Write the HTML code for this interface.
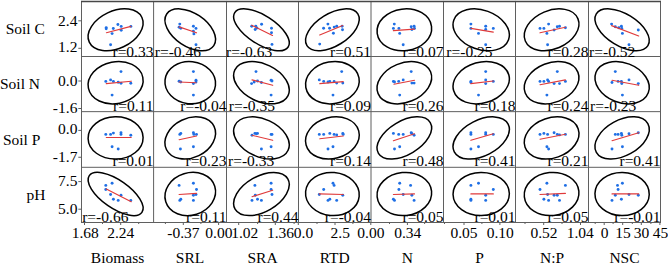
<!DOCTYPE html><html><head><meta charset="utf-8"><style>html,body{margin:0;padding:0;background:#fff;}svg{display:block;}text{font-family:"Liberation Serif",serif;fill:#000;font-size:15.5px;}</style></head><body>
<svg width="668" height="264" viewBox="0 0 668 264">
<rect width="668" height="264" fill="#fff"/>
<g stroke="#5f5f5f" stroke-width="1" fill="none">
<line x1="81.5" y1="0.95" x2="81.5" y2="223.0"/>
<line x1="153.6" y1="0.95" x2="153.6" y2="223.0"/>
<line x1="226.5" y1="0.95" x2="226.5" y2="223.0"/>
<line x1="298.5" y1="0.95" x2="298.5" y2="223.0"/>
<line x1="371.0" y1="0.95" x2="371.0" y2="223.0"/>
<line x1="443.5" y1="0.95" x2="443.5" y2="223.0"/>
<line x1="515.5" y1="0.95" x2="515.5" y2="223.0"/>
<line x1="588.5" y1="0.95" x2="588.5" y2="223.0"/>
<line x1="660.5" y1="0.95" x2="660.5" y2="223.0"/>
<line x1="81.0" y1="1.45" x2="661.0" y2="1.45" stroke="#474747" stroke-width="1.4"/>
<line x1="81.0" y1="56.5" x2="661.0" y2="56.5"/>
<line x1="81.0" y1="111.65" x2="661.0" y2="111.65"/>
<line x1="81.0" y1="167.3" x2="661.0" y2="167.3"/>
<line x1="81.0" y1="222.5" x2="661.0" y2="222.5"/>
<line x1="78.3" y1="20.8" x2="81" y2="20.8"/>
<line x1="78.3" y1="48.3" x2="81" y2="48.3"/>
<line x1="78.3" y1="81.0" x2="81" y2="81.0"/>
<line x1="78.3" y1="108.5" x2="81" y2="108.5"/>
<line x1="78.3" y1="130.4" x2="81" y2="130.4"/>
<line x1="78.3" y1="157.25" x2="81" y2="157.25"/>
<line x1="78.3" y1="181.6" x2="81" y2="181.6"/>
<line x1="78.3" y1="209.2" x2="81" y2="209.2"/>
<line x1="84.5" y1="222.5" x2="84.5" y2="225"/>
<line x1="120.7" y1="222.5" x2="120.7" y2="225"/>
<line x1="183.3" y1="222.5" x2="183.3" y2="225"/>
<line x1="218.6" y1="222.5" x2="218.6" y2="225"/>
<line x1="238.7" y1="222.5" x2="238.7" y2="225"/>
<line x1="275.3" y1="222.5" x2="275.3" y2="225"/>
<line x1="298.3" y1="222.5" x2="298.3" y2="225"/>
<line x1="335" y1="222.5" x2="335" y2="225"/>
<line x1="370.8" y1="222.5" x2="370.8" y2="225"/>
<line x1="407.4" y1="222.5" x2="407.4" y2="225"/>
<line x1="464" y1="222.5" x2="464" y2="225"/>
<line x1="499.9" y1="222.5" x2="499.9" y2="225"/>
<line x1="543.7" y1="222.5" x2="543.7" y2="225"/>
<line x1="580.5" y1="222.5" x2="580.5" y2="225"/>
<line x1="604.2" y1="222.5" x2="604.2" y2="225"/>
<line x1="622.7" y1="222.5" x2="622.7" y2="225"/>
<line x1="641.3" y1="222.5" x2="641.3" y2="225"/>
<line x1="659.9" y1="222.5" x2="659.9" y2="225"/>
<line x1="102.5" y1="222.5" x2="102.5" y2="224"/>
<line x1="138.7" y1="222.5" x2="138.7" y2="224"/>
<line x1="165.4" y1="222.5" x2="165.4" y2="224"/>
<line x1="200.9" y1="222.5" x2="200.9" y2="224"/>
<line x1="257.6" y1="222.5" x2="257.6" y2="224"/>
<line x1="294.1" y1="222.5" x2="294.1" y2="224"/>
<line x1="317" y1="222.5" x2="317" y2="224"/>
<line x1="352.9" y1="222.5" x2="352.9" y2="224"/>
<line x1="389.5" y1="222.5" x2="389.5" y2="224"/>
<line x1="424.6" y1="222.5" x2="424.6" y2="224"/>
<line x1="444.5" y1="222.5" x2="444.5" y2="224"/>
<line x1="481.9" y1="222.5" x2="481.9" y2="224"/>
<line x1="525" y1="222.5" x2="525" y2="224"/>
<line x1="562" y1="222.5" x2="562" y2="224"/>
<line x1="595.2" y1="222.5" x2="595.2" y2="224"/>
<line x1="613.1" y1="222.5" x2="613.1" y2="224"/>
<line x1="632.3" y1="222.5" x2="632.3" y2="224"/>
<line x1="650.9" y1="222.5" x2="650.9" y2="224"/>
</g>
<g><text x="5.7" y="33.7">Soil C</text><text x="0.0" y="88.9">Soil N</text><text x="2.9" y="144.9">Soil P</text><text x="26.5" y="199.9">pH</text><text x="77.4" y="26.0" text-anchor="end">2.4</text><text x="77.4" y="52.1" text-anchor="end">1.2</text><text x="77.4" y="85.9" text-anchor="end">0.0</text><text x="77.4" y="112.5" text-anchor="end">-1.6</text><text x="77.4" y="134.2" text-anchor="end">0.0</text><text x="77.4" y="162.45" text-anchor="end">-1.7</text><text x="77.4" y="185.8" text-anchor="end">7.5</text><text x="77.4" y="214.4" text-anchor="end">5.0</text><text x="85.3" y="238.0" text-anchor="middle">1.68</text><text x="120.8" y="238.0" text-anchor="middle">2.24</text><text x="183.4" y="238.0" text-anchor="middle">-0.37</text><text x="218.9" y="238.0" text-anchor="middle">0.00</text><text x="244.8" y="238.0" text-anchor="middle">1.02</text><text x="280.5" y="238.0" text-anchor="middle">1.36</text><text x="303.5" y="238.0" text-anchor="middle">0.0</text><text x="340.2" y="238.0" text-anchor="middle">2.5</text><text x="370.9" y="238.0" text-anchor="middle">0.00</text><text x="407.8" y="238.0" text-anchor="middle">0.34</text><text x="464" y="238.0" text-anchor="middle">0.05</text><text x="500.3" y="238.0" text-anchor="middle">0.10</text><text x="544" y="238.0" text-anchor="middle">0.52</text><text x="580.3" y="238.0" text-anchor="middle">1.04</text><text x="604.5" y="238.0" text-anchor="middle">0</text><text x="623" y="238.0" text-anchor="middle">15</text><text x="641.6" y="238.0" text-anchor="middle">30</text><text x="660.5" y="238.0" text-anchor="middle">45</text><text x="117.5" y="262.8" text-anchor="middle">Biomass</text><text x="190.0" y="262.8" text-anchor="middle">SRL</text><text x="262.5" y="262.8" text-anchor="middle">SRA</text><text x="334.75" y="262.8" text-anchor="middle">RTD</text><text x="407.25" y="262.8" text-anchor="middle">N</text><text x="479.5" y="262.8" text-anchor="middle">P</text><text x="552.0" y="262.8" text-anchor="middle">N:P</text><text x="624.5" y="262.8" text-anchor="middle">NSC</text><text x="153.5" y="56.6" text-anchor="end">r=0.33</text><text x="154.75" y="56.6">r=-0.46</text><text x="226.0" y="56.6">r=-0.63</text><text x="371.0" y="56.6" text-anchor="end">r=0.51</text><text x="443.5" y="56.6" text-anchor="end">r=0.07</text><text x="446.35" y="56.6">r=-0.25</text><text x="588.5" y="56.6" text-anchor="end">r=0.28</text><text x="589.1" y="56.6">r=-0.52</text><text x="153.5" y="111.35" text-anchor="end">r=0.11</text><text x="226.5" y="111.35" text-anchor="end">r=-0.04</text><text x="228.8" y="111.35">r=-0.35</text><text x="371.0" y="111.35" text-anchor="end">r=0.09</text><text x="443.5" y="111.35" text-anchor="end">r=0.26</text><text x="515.5" y="111.35" text-anchor="end">r=0.18</text><text x="588.5" y="111.35" text-anchor="end">r=0.24</text><text x="590.1" y="111.35">r=-0.23</text><text x="153.5" y="165.8" text-anchor="end">r=0.01</text><text x="226.5" y="165.8" text-anchor="end">r=0.23</text><text x="228.0" y="165.8">r=-0.33</text><text x="371.0" y="165.8" text-anchor="end">r=0.14</text><text x="443.5" y="165.8" text-anchor="end">r=0.48</text><text x="515.5" y="165.8" text-anchor="end">r=0.41</text><text x="588.5" y="165.8" text-anchor="end">r=0.21</text><text x="660.5" y="165.8" text-anchor="end">r=0.41</text><text x="82.2" y="222.0">r=-0.66</text><text x="226.5" y="222.0" text-anchor="end">r=0.11</text><text x="298.5" y="222.0" text-anchor="end">r=0.44</text><text x="371.0" y="222.0" text-anchor="end">r=-0.04</text><text x="443.5" y="222.0" text-anchor="end">r=0.05</text><text x="515.5" y="222.0" text-anchor="end">r=0.01</text><text x="588.5" y="222.0" text-anchor="end">r=0.05</text><text x="660.5" y="222.0" text-anchor="end">r=-0.01</text></g>
<g fill="none" stroke="#000" stroke-width="1.5">
<ellipse cx="115.60" cy="29.80" rx="29.07" ry="18.71" transform="rotate(154.92 115.60 29.80)"/>
<ellipse cx="190.25" cy="29.80" rx="28.34" ry="16.61" transform="rotate(-146.21 190.25 29.80)"/>
<ellipse cx="261.45" cy="29.80" rx="31.76" ry="14.24" transform="rotate(-147.23 261.45 29.80)"/>
<ellipse cx="332.40" cy="29.80" rx="29.99" ry="16.13" transform="rotate(148.09 332.40 29.80)"/>
<ellipse cx="404.35" cy="29.80" rx="27.39" ry="20.83" transform="rotate(172.68 404.35 29.80)"/>
<ellipse cx="481.20" cy="29.80" rx="29.08" ry="19.63" transform="rotate(-160.08 481.20 29.80)"/>
<ellipse cx="551.60" cy="29.80" rx="28.57" ry="19.25" transform="rotate(156.97 551.60 29.80)"/>
<ellipse cx="622.10" cy="29.80" rx="30.32" ry="16.02" transform="rotate(-148.38 622.10 29.80)"/>
<ellipse cx="115.60" cy="82.70" rx="27.73" ry="20.85" transform="rotate(168.75 115.60 82.70)"/>
<ellipse cx="190.25" cy="82.70" rx="25.35" ry="21.09" transform="rotate(-173.74 190.25 82.70)"/>
<ellipse cx="261.45" cy="82.70" rx="29.54" ry="18.65" transform="rotate(-154.17 261.45 82.70)"/>
<ellipse cx="332.40" cy="82.70" rx="27.02" ry="20.93" transform="rotate(169.76 332.40 82.70)"/>
<ellipse cx="404.35" cy="82.70" rx="28.42" ry="19.62" transform="rotate(157.39 404.35 82.70)"/>
<ellipse cx="481.20" cy="82.70" rx="28.69" ry="20.41" transform="rotate(164.08 481.20 82.70)"/>
<ellipse cx="551.60" cy="82.70" rx="28.33" ry="19.82" transform="rotate(158.64 551.60 82.70)"/>
<ellipse cx="622.10" cy="82.70" rx="28.08" ry="19.90" transform="rotate(-158.83 622.10 82.70)"/>
<ellipse cx="115.60" cy="137.95" rx="27.50" ry="21.10" transform="rotate(178.93 115.60 137.95)"/>
<ellipse cx="190.25" cy="137.95" rx="26.45" ry="19.64" transform="rotate(154.22 190.25 137.95)"/>
<ellipse cx="261.45" cy="137.95" rx="29.37" ry="18.85" transform="rotate(-155.12 261.45 137.95)"/>
<ellipse cx="332.40" cy="137.95" rx="27.24" ry="20.59" transform="rotate(165.04 332.40 137.95)"/>
<ellipse cx="404.35" cy="137.95" rx="30.16" ry="16.75" transform="rotate(149.24 404.35 137.95)"/>
<ellipse cx="481.20" cy="137.95" rx="30.30" ry="17.88" transform="rotate(152.74 481.20 137.95)"/>
<ellipse cx="551.60" cy="137.95" rx="28.12" ry="20.07" transform="rotate(160.66 551.60 137.95)"/>
<ellipse cx="622.10" cy="137.95" rx="29.46" ry="17.74" transform="rotate(150.93 622.10 137.95)"/>
<ellipse cx="115.60" cy="194.00" rx="32.08" ry="13.91" transform="rotate(-145.14 115.60 194.00)"/>
<ellipse cx="190.25" cy="194.00" rx="25.67" ry="21.16" transform="rotate(162.64 190.25 194.00)"/>
<ellipse cx="261.45" cy="194.00" rx="30.42" ry="17.73" transform="rotate(150.05 261.45 194.00)"/>
<ellipse cx="332.40" cy="194.00" rx="26.89" ry="21.55" transform="rotate(-174.83 332.40 194.00)"/>
<ellipse cx="404.35" cy="194.00" rx="27.36" ry="21.53" transform="rotate(174.03 404.35 194.00)"/>
<ellipse cx="481.20" cy="194.00" rx="28.15" ry="21.60" transform="rotate(178.93 481.20 194.00)"/>
<ellipse cx="551.60" cy="194.00" rx="27.41" ry="21.53" transform="rotate(174.07 551.60 194.00)"/>
<ellipse cx="622.10" cy="194.00" rx="27.15" ry="21.60" transform="rotate(-178.76 622.10 194.00)"/>
</g>
<g fill="#1f6fe5">
<circle cx="106.2" cy="27.6" r="1.45"/>
<circle cx="106.2" cy="28.8" r="1.45"/>
<circle cx="117.89999999999999" cy="24.5" r="1.45"/>
<circle cx="113.3" cy="28.5" r="1.45"/>
<circle cx="121.2" cy="26.400000000000002" r="1.45"/>
<circle cx="121.2" cy="30.3" r="1.45"/>
<circle cx="130.9" cy="26.400000000000002" r="1.45"/>
<circle cx="112.1" cy="33.599999999999994" r="1.45"/>
<circle cx="110.6" cy="44.699999999999996" r="1.45"/>
<circle cx="179.8" cy="24.1" r="1.45"/>
<circle cx="179.1" cy="27.3" r="1.45"/>
<circle cx="180.8" cy="28.2" r="1.45"/>
<circle cx="193.4" cy="26.3" r="1.45"/>
<circle cx="196" cy="28.400000000000002" r="1.45"/>
<circle cx="193.4" cy="31.3" r="1.45"/>
<circle cx="193.9" cy="33.9" r="1.45"/>
<circle cx="196" cy="44.699999999999996" r="1.45"/>
<circle cx="251.7" cy="26.3" r="1.45"/>
<circle cx="255.8" cy="26.1" r="1.45"/>
<circle cx="256.9" cy="28.0" r="1.45"/>
<circle cx="255.2" cy="29.5" r="1.45"/>
<circle cx="261.6" cy="24.2" r="1.45"/>
<circle cx="271.5" cy="28.3" r="1.45"/>
<circle cx="271.5" cy="32.8" r="1.45"/>
<circle cx="272.0" cy="44.4" r="1.45"/>
<circle cx="323.6" cy="28.3" r="1.45"/>
<circle cx="327.9" cy="24.1" r="1.45"/>
<circle cx="329.6" cy="28.3" r="1.45"/>
<circle cx="333.4" cy="33.2" r="1.45"/>
<circle cx="334.2" cy="27.1" r="1.45"/>
<circle cx="336.7" cy="26.2" r="1.45"/>
<circle cx="342.1" cy="26.2" r="1.45"/>
<circle cx="342.5" cy="29.8" r="1.45"/>
<circle cx="319.7" cy="44.1" r="1.45"/>
<circle cx="394.3" cy="24.1" r="1.45"/>
<circle cx="393.4" cy="28.400000000000002" r="1.45"/>
<circle cx="398.9" cy="28.400000000000002" r="1.45"/>
<circle cx="399.7" cy="33.4" r="1.45"/>
<circle cx="411.2" cy="26.7" r="1.45"/>
<circle cx="414.1" cy="26.3" r="1.45"/>
<circle cx="411.9" cy="29.5" r="1.45"/>
<circle cx="414.5" cy="28.400000000000002" r="1.45"/>
<circle cx="403.2" cy="44.699999999999996" r="1.45"/>
<circle cx="470.9" cy="24.1" r="1.45"/>
<circle cx="470.9" cy="28.400000000000002" r="1.45"/>
<circle cx="478.5" cy="33.4" r="1.45"/>
<circle cx="485.7" cy="26.3" r="1.45"/>
<circle cx="485.7" cy="29.5" r="1.45"/>
<circle cx="493.3" cy="28.400000000000002" r="1.45"/>
<circle cx="485.7" cy="44.699999999999996" r="1.45"/>
<circle cx="540" cy="28.400000000000002" r="1.45"/>
<circle cx="543.9" cy="28.400000000000002" r="1.45"/>
<circle cx="548.6" cy="24.1" r="1.45"/>
<circle cx="546.9" cy="33.4" r="1.45"/>
<circle cx="554.1" cy="30.0" r="1.45"/>
<circle cx="557.3" cy="26.7" r="1.45"/>
<circle cx="559.5" cy="26.3" r="1.45"/>
<circle cx="565.4" cy="27.8" r="1.45"/>
<circle cx="547.6" cy="44.699999999999996" r="1.45"/>
<circle cx="611.6" cy="24.1" r="1.45"/>
<circle cx="615.3" cy="26.7" r="1.45"/>
<circle cx="618.8" cy="27.8" r="1.45"/>
<circle cx="621.4" cy="26.3" r="1.45"/>
<circle cx="621.8" cy="28.400000000000002" r="1.45"/>
<circle cx="622.4" cy="33.4" r="1.45"/>
<circle cx="638.3" cy="30.0" r="1.45"/>
<circle cx="629" cy="44.699999999999996" r="1.45"/>
<circle cx="105.8" cy="81.4" r="1.45"/>
<circle cx="110.6" cy="79.9" r="1.45"/>
<circle cx="113.39999999999999" cy="81.4" r="1.45"/>
<circle cx="118.2" cy="82.3" r="1.45"/>
<circle cx="121.0" cy="71.6" r="1.45"/>
<circle cx="121.0" cy="83.3" r="1.45"/>
<circle cx="130.8" cy="83.3" r="1.45"/>
<circle cx="112.1" cy="95.1" r="1.45"/>
<circle cx="179.1" cy="81.2" r="1.45"/>
<circle cx="180.8" cy="82.0" r="1.45"/>
<circle cx="193.4" cy="71.6" r="1.45"/>
<circle cx="196" cy="80.3" r="1.45"/>
<circle cx="196" cy="82.0" r="1.45"/>
<circle cx="193.4" cy="83.6" r="1.45"/>
<circle cx="193.4" cy="95.1" r="1.45"/>
<circle cx="256" cy="71.6" r="1.45"/>
<circle cx="251.6" cy="83.6" r="1.45"/>
<circle cx="254.2" cy="82.0" r="1.45"/>
<circle cx="257.5" cy="81.0" r="1.45"/>
<circle cx="261.4" cy="82.5" r="1.45"/>
<circle cx="271.1" cy="80.3" r="1.45"/>
<circle cx="272" cy="81.0" r="1.45"/>
<circle cx="271.1" cy="95.1" r="1.45"/>
<circle cx="319.3" cy="79.9" r="1.45"/>
<circle cx="323.7" cy="81.4" r="1.45"/>
<circle cx="328" cy="82.0" r="1.45"/>
<circle cx="329.8" cy="81.4" r="1.45"/>
<circle cx="334.1" cy="81.4" r="1.45"/>
<circle cx="336.7" cy="83.1" r="1.45"/>
<circle cx="341.7" cy="71.6" r="1.45"/>
<circle cx="342.8" cy="83.1" r="1.45"/>
<circle cx="333" cy="95.1" r="1.45"/>
<circle cx="393.4" cy="81.4" r="1.45"/>
<circle cx="394.5" cy="82.0" r="1.45"/>
<circle cx="398.7" cy="81.4" r="1.45"/>
<circle cx="403.2" cy="79.9" r="1.45"/>
<circle cx="411.2" cy="71.6" r="1.45"/>
<circle cx="411.9" cy="83.1" r="1.45"/>
<circle cx="414.1" cy="83.1" r="1.45"/>
<circle cx="399.7" cy="95.1" r="1.45"/>
<circle cx="470.9" cy="81.4" r="1.45"/>
<circle cx="470.9" cy="82.5" r="1.45"/>
<circle cx="485.7" cy="71.6" r="1.45"/>
<circle cx="485.7" cy="79.9" r="1.45"/>
<circle cx="485.7" cy="83.6" r="1.45"/>
<circle cx="493.3" cy="81.4" r="1.45"/>
<circle cx="478.5" cy="95.1" r="1.45"/>
<circle cx="540" cy="81.4" r="1.45"/>
<circle cx="543.9" cy="81.4" r="1.45"/>
<circle cx="547.6" cy="79.9" r="1.45"/>
<circle cx="548.6" cy="81.4" r="1.45"/>
<circle cx="554.1" cy="83.6" r="1.45"/>
<circle cx="557.3" cy="71.6" r="1.45"/>
<circle cx="559.5" cy="83.6" r="1.45"/>
<circle cx="565.4" cy="81.4" r="1.45"/>
<circle cx="546.9" cy="95.1" r="1.45"/>
<circle cx="612" cy="82.5" r="1.45"/>
<circle cx="615.3" cy="71.6" r="1.45"/>
<circle cx="618.1" cy="81.4" r="1.45"/>
<circle cx="621.4" cy="81.4" r="1.45"/>
<circle cx="621.8" cy="83.6" r="1.45"/>
<circle cx="629" cy="79.9" r="1.45"/>
<circle cx="638.3" cy="83.6" r="1.45"/>
<circle cx="622.4" cy="95.1" r="1.45"/>
<circle cx="105.8" cy="134.4" r="1.45"/>
<circle cx="110.6" cy="134.4" r="1.45"/>
<circle cx="113.39999999999999" cy="133.1" r="1.45"/>
<circle cx="121.0" cy="132.7" r="1.45"/>
<circle cx="121.0" cy="134.4" r="1.45"/>
<circle cx="130.8" cy="135.3" r="1.45"/>
<circle cx="112.1" cy="146.8" r="1.45"/>
<circle cx="118.2" cy="149.0" r="1.45"/>
<circle cx="179.8" cy="134.4" r="1.45"/>
<circle cx="180.8" cy="133.4" r="1.45"/>
<circle cx="193.4" cy="132.7" r="1.45"/>
<circle cx="193.9" cy="134.4" r="1.45"/>
<circle cx="196.5" cy="134.4" r="1.45"/>
<circle cx="180.4" cy="149.0" r="1.45"/>
<circle cx="193.4" cy="146.8" r="1.45"/>
<circle cx="252" cy="135.3" r="1.45"/>
<circle cx="254.9" cy="133.4" r="1.45"/>
<circle cx="256.4" cy="133.8" r="1.45"/>
<circle cx="257.5" cy="133.4" r="1.45"/>
<circle cx="271.1" cy="134.4" r="1.45"/>
<circle cx="272" cy="134.4" r="1.45"/>
<circle cx="261.4" cy="149.0" r="1.45"/>
<circle cx="271.1" cy="146.8" r="1.45"/>
<circle cx="319.3" cy="134.4" r="1.45"/>
<circle cx="323.7" cy="134.4" r="1.45"/>
<circle cx="329.8" cy="133.4" r="1.45"/>
<circle cx="334.1" cy="134.4" r="1.45"/>
<circle cx="336.7" cy="134.9" r="1.45"/>
<circle cx="342.8" cy="133.4" r="1.45"/>
<circle cx="343.2" cy="134.4" r="1.45"/>
<circle cx="328" cy="149.0" r="1.45"/>
<circle cx="333" cy="146.8" r="1.45"/>
<circle cx="393.4" cy="133.4" r="1.45"/>
<circle cx="398.7" cy="134.4" r="1.45"/>
<circle cx="403.2" cy="134.4" r="1.45"/>
<circle cx="411.2" cy="132.7" r="1.45"/>
<circle cx="411.9" cy="133.8" r="1.45"/>
<circle cx="414.1" cy="135.3" r="1.45"/>
<circle cx="394.5" cy="149.0" r="1.45"/>
<circle cx="399.7" cy="146.8" r="1.45"/>
<circle cx="470.9" cy="132.7" r="1.45"/>
<circle cx="470.9" cy="134.4" r="1.45"/>
<circle cx="485.7" cy="132.7" r="1.45"/>
<circle cx="485.7" cy="134.4" r="1.45"/>
<circle cx="493.3" cy="134.4" r="1.45"/>
<circle cx="470.9" cy="149.0" r="1.45"/>
<circle cx="478.5" cy="146.8" r="1.45"/>
<circle cx="540" cy="134.4" r="1.45"/>
<circle cx="543.9" cy="133.4" r="1.45"/>
<circle cx="547.6" cy="134.4" r="1.45"/>
<circle cx="554.1" cy="132.7" r="1.45"/>
<circle cx="557.3" cy="134.4" r="1.45"/>
<circle cx="559.5" cy="134.9" r="1.45"/>
<circle cx="565.4" cy="134.4" r="1.45"/>
<circle cx="546.9" cy="146.8" r="1.45"/>
<circle cx="548.6" cy="149.0" r="1.45"/>
<circle cx="615.3" cy="134.4" r="1.45"/>
<circle cx="618.1" cy="134.4" r="1.45"/>
<circle cx="621.4" cy="133.4" r="1.45"/>
<circle cx="621.8" cy="135.3" r="1.45"/>
<circle cx="629" cy="133.8" r="1.45"/>
<circle cx="638.3" cy="132.7" r="1.45"/>
<circle cx="612" cy="149.0" r="1.45"/>
<circle cx="622.4" cy="146.8" r="1.45"/>
<circle cx="105.8" cy="185.4" r="1.45"/>
<circle cx="112.1" cy="183.20000000000002" r="1.45"/>
<circle cx="105.8" cy="189.5" r="1.45"/>
<circle cx="110.6" cy="194.5" r="1.45"/>
<circle cx="113.39999999999999" cy="199.3" r="1.45"/>
<circle cx="118.2" cy="200.4" r="1.45"/>
<circle cx="121.0" cy="195.20000000000002" r="1.45"/>
<circle cx="130.8" cy="200.4" r="1.45"/>
<circle cx="179.1" cy="185.4" r="1.45"/>
<circle cx="193.4" cy="183.20000000000002" r="1.45"/>
<circle cx="196.5" cy="189.5" r="1.45"/>
<circle cx="196" cy="194.5" r="1.45"/>
<circle cx="193.4" cy="195.20000000000002" r="1.45"/>
<circle cx="180.8" cy="199.3" r="1.45"/>
<circle cx="179.8" cy="200.4" r="1.45"/>
<circle cx="193.4" cy="200.4" r="1.45"/>
<circle cx="254.9" cy="185.4" r="1.45"/>
<circle cx="271.1" cy="183.20000000000002" r="1.45"/>
<circle cx="271.1" cy="189.5" r="1.45"/>
<circle cx="272" cy="194.5" r="1.45"/>
<circle cx="255.3" cy="195.20000000000002" r="1.45"/>
<circle cx="252" cy="200.4" r="1.45"/>
<circle cx="257.5" cy="199.3" r="1.45"/>
<circle cx="261.4" cy="200.4" r="1.45"/>
<circle cx="333" cy="183.20000000000002" r="1.45"/>
<circle cx="334.1" cy="185.4" r="1.45"/>
<circle cx="323.7" cy="189.5" r="1.45"/>
<circle cx="319.3" cy="194.5" r="1.45"/>
<circle cx="342.8" cy="195.20000000000002" r="1.45"/>
<circle cx="328" cy="200.4" r="1.45"/>
<circle cx="329.8" cy="199.3" r="1.45"/>
<circle cx="336.7" cy="200.4" r="1.45"/>
<circle cx="399.7" cy="183.20000000000002" r="1.45"/>
<circle cx="410.6" cy="185.4" r="1.45"/>
<circle cx="398.9" cy="189.5" r="1.45"/>
<circle cx="403.2" cy="194.5" r="1.45"/>
<circle cx="411.9" cy="195.20000000000002" r="1.45"/>
<circle cx="393.4" cy="199.3" r="1.45"/>
<circle cx="394.5" cy="200.4" r="1.45"/>
<circle cx="414.1" cy="200.4" r="1.45"/>
<circle cx="470.9" cy="185.4" r="1.45"/>
<circle cx="478.5" cy="183.20000000000002" r="1.45"/>
<circle cx="493.3" cy="189.5" r="1.45"/>
<circle cx="485.7" cy="195.20000000000002" r="1.45"/>
<circle cx="470.9" cy="199.3" r="1.45"/>
<circle cx="470.9" cy="200.4" r="1.45"/>
<circle cx="485.7" cy="200.4" r="1.45"/>
<circle cx="546.9" cy="183.20000000000002" r="1.45"/>
<circle cx="565.4" cy="185.4" r="1.45"/>
<circle cx="540" cy="189.5" r="1.45"/>
<circle cx="547.6" cy="194.5" r="1.45"/>
<circle cx="554.1" cy="195.20000000000002" r="1.45"/>
<circle cx="557.3" cy="195.20000000000002" r="1.45"/>
<circle cx="543.9" cy="199.3" r="1.45"/>
<circle cx="548.6" cy="200.4" r="1.45"/>
<circle cx="559.5" cy="200.4" r="1.45"/>
<circle cx="617.5" cy="185.4" r="1.45"/>
<circle cx="622.4" cy="183.20000000000002" r="1.45"/>
<circle cx="618.1" cy="189.5" r="1.45"/>
<circle cx="615.3" cy="195.20000000000002" r="1.45"/>
<circle cx="629" cy="194.5" r="1.45"/>
<circle cx="638.3" cy="195.20000000000002" r="1.45"/>
<circle cx="612" cy="200.4" r="1.45"/>
<circle cx="621.4" cy="199.3" r="1.45"/>
</g>
<g stroke="#e03a3a" stroke-width="1.15" stroke-linecap="round">
<line x1="106.39999999999999" y1="32.699999999999996" x2="130.9" y2="26.400000000000002"/>
<line x1="179.1" y1="26.900000000000002" x2="196.5" y2="32.8"/>
<line x1="251.7" y1="25.3" x2="272.5" y2="35.5"/>
<line x1="319.7" y1="35.0" x2="342.7" y2="25.5"/>
<line x1="393.4" y1="30.6" x2="414.5" y2="29.1"/>
<line x1="470.9" y1="28.400000000000002" x2="493.3" y2="32.1"/>
<line x1="540" y1="32.8" x2="565.4" y2="27.3"/>
<line x1="611.6" y1="25.6" x2="638.7" y2="36.0"/>
<line x1="106.3" y1="83.6" x2="131.20000000000002" y2="81.2"/>
<line x1="179.1" y1="82.0" x2="196" y2="82.7"/>
<line x1="252" y1="79.9" x2="272.7" y2="85.3"/>
<line x1="319.8" y1="83.6" x2="343.2" y2="81.6"/>
<line x1="393.9" y1="84.2" x2="414.5" y2="80.3"/>
<line x1="470.9" y1="83.6" x2="493.3" y2="81.0"/>
<line x1="540" y1="84.7" x2="565.4" y2="79.9"/>
<line x1="612" y1="80.3" x2="638.7" y2="85.3"/>
<line x1="106.3" y1="137.5" x2="131.20000000000002" y2="137.5"/>
<line x1="179.1" y1="139.7" x2="196.5" y2="136.0"/>
<line x1="252" y1="135.3" x2="272.7" y2="140.3"/>
<line x1="319.8" y1="138.8" x2="343.2" y2="136.0"/>
<line x1="393.4" y1="140.7" x2="414.5" y2="133.8"/>
<line x1="470.9" y1="140.3" x2="493.3" y2="133.8"/>
<line x1="540" y1="139.2" x2="565.4" y2="134.2"/>
<line x1="612" y1="140.7" x2="638.7" y2="132.7"/>
<line x1="106.3" y1="189.10000000000002" x2="131.20000000000002" y2="201.70000000000002"/>
<line x1="179.1" y1="194.5" x2="196.5" y2="193.4"/>
<line x1="252" y1="196.70000000000002" x2="272.7" y2="190.20000000000002"/>
<line x1="319.3" y1="193.9" x2="343.2" y2="194.5"/>
<line x1="393.4" y1="194.5" x2="414.5" y2="193.9"/>
<line x1="470.9" y1="193.9" x2="493.3" y2="193.9"/>
<line x1="540" y1="194.5" x2="565.4" y2="193.4"/>
<line x1="612" y1="193.9" x2="638.7" y2="193.9"/>
</g>
</svg></body></html>
